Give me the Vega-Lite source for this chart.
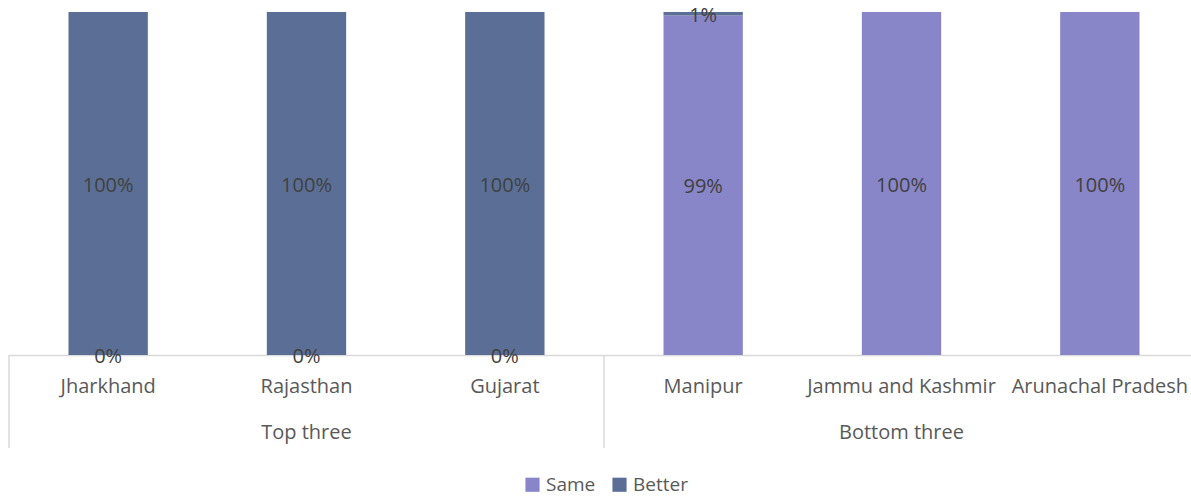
{
  "$schema": "https://vega.github.io/schema/vega-lite/v6.json",
  "autosize": "none",
  "width": 1190,
  "height": 343,
  "padding": {"left": 9, "top": 12, "right": 0, "bottom": 142},
  "config": {"view": {"stroke": null}, "font": "Open Sans"},
  "datasets": {
    "bars": [
      {"state": "Jharkhand", "group": "Top three", "type": "Same", "value": 0},
      {"state": "Jharkhand", "group": "Top three", "type": "Better", "value": 1},
      {"state": "Rajasthan", "group": "Top three", "type": "Same", "value": 0},
      {"state": "Rajasthan", "group": "Top three", "type": "Better", "value": 1},
      {"state": "Gujarat", "group": "Top three", "type": "Same", "value": 0},
      {"state": "Gujarat", "group": "Top three", "type": "Better", "value": 1},
      {"state": "Manipur", "group": "Bottom three", "type": "Same", "value": 0.99},
      {"state": "Manipur", "group": "Bottom three", "type": "Better", "value": 0.01},
      {"state": "Jammu and Kashmir", "group": "Bottom three", "type": "Same", "value": 1},
      {"state": "Arunachal Pradesh", "group": "Bottom three", "type": "Same", "value": 1}
    ],
    "groups": [
      {"group": "Top three"},
      {"group": "Bottom three"}
    ]
  },
  "layer": [
    {
      "data": {"name": "bars"},
      "layer": [
        {
          "mark": {"type": "bar"},
          "encoding": {
            "x": {
              "field": "state", "type": "nominal", "sort": null,
              "scale": {"paddingInner": 0.6, "paddingOuter": 0.3},
              "axis": {"title": null, "ticks": false, "labelAngle": 0, "labelFontSize": 20, "labelColor": "#595959", "labelPadding": 21, "labelLimit": 400, "labelOverlap": false, "domainColor": "#d9d9d9", "domainWidth": 1.5, "labelFont": "Open Sans"}
            },
            "y": {
              "field": "value", "type": "quantitative", "stack": "zero",
              "scale": {"domain": [0, 1], "nice": false},
              "axis": null
            },
            "color": {
              "field": "type", "type": "nominal",
              "scale": {"domain": ["Same", "Better"], "range": ["#8886C8", "#5B6F96"]},
              "legend": {"title": null, "orient": "none", "direction": "horizontal", "legendX": 514, "legendY": 463, "symbolType": "square", "symbolSize": 200, "symbolStrokeWidth": 0, "labelFontSize": 19, "labelColor": "#595959", "labelFont": "Open Sans", "columnPadding": 14, "symbolOffset": 0, "labelOffset": 4}
            },
            "order": {"field": "type", "sort": "descending"}
          }
        },
        {
          "mark": {"type": "text", "fontSize": 20, "color": "#404040", "font": "Open Sans", "dy": 2},
          "encoding": {
            "x": {"field": "state", "type": "nominal", "sort": null},
            "y": {"field": "value", "type": "quantitative", "stack": "zero", "bandPosition": 0.5},
            "text": {"field": "value", "type": "quantitative", "format": ".0%"},
            "detail": {"field": "type"},
            "order": {"field": "type", "sort": "descending"}
          }
        }
      ]
    },
    {
      "data": {"name": "groups"},
      "layer": [
        {
          "mark": {"type": "text", "fontSize": 20, "color": "#595959", "font": "Open Sans", "baseline": "middle"},
          "encoding": {
            "x": {"field": "group", "type": "nominal", "sort": null, "scale": {"padding": 0}, "axis": null},
            "y": {"datum": -0.227},
            "text": {"field": "group"}
          }
        },
        {
          "mark": {"type": "rule", "color": "#d9d9d9", "strokeWidth": 1.5},
          "encoding": {
            "x": {"field": "group", "type": "nominal", "sort": null, "bandPosition": 0},
            "y": {"datum": 0},
            "y2": {"datum": -0.271}
          }
        }
      ]
    }
  ],
  "resolve": {"scale": {"x": "independent"}}
}
